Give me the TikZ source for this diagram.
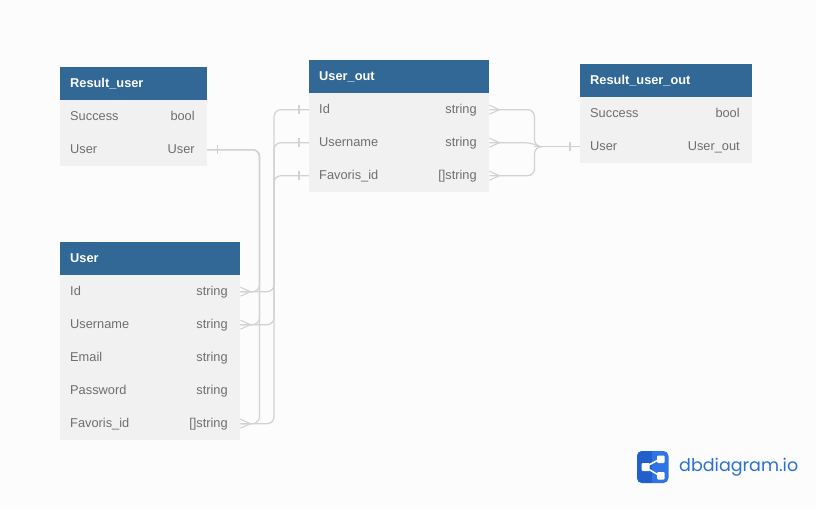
\documentclass[tikz,border=0pt]{standalone}
\usepackage{fontspec}
\setmainfont{Liberation Sans}
\newfontfamily\logofont{Poppins}
\usetikzlibrary{calc}
\definecolor{bgc}{HTML}{FCFCFC}
\definecolor{headc}{HTML}{316896}
\definecolor{rowc}{HTML}{F1F1F1}
\definecolor{linec}{HTML}{D2D2D2}
\definecolor{txtc}{HTML}{6E6E6E}
\definecolor{logoa}{HTML}{2F74E2}
\definecolor{logob}{HTML}{2160CC}
\definecolor{logot}{HTML}{2A6FD2}
\tikzset{
  head/.style={anchor=north west,fill=headc,inner sep=0pt,minimum height=33pt,text=white},
  rowbox/.style={anchor=north west,fill=rowc,inner sep=0pt,minimum height=33pt},
  lbl/.style={anchor=base west,inner sep=0pt,text=txtc,font=\fontsize{12.8}{15}\selectfont},
  typ/.style={anchor=base east,inner sep=0pt,text=txtc,font=\fontsize{12.8}{15}\selectfont},
  rel/.style={draw=linec,line width=1.2pt,rounded corners=7pt},
  relmark/.style={draw=linec,line width=1.1pt},
}
% name, x, y, width, title
\newcommand{\tblhead}[5]{%
  \node[head,minimum width=#4pt] (#1) at (#2,#3) {};
  \node[anchor=base west,inner sep=0pt,text=white,font=\fontsize{12.8}{15}\selectfont\bfseries] (#1T) at ($(#1.north west)+(10,20)$) {#5};
}
% name, x, y, width, field, type
\newcommand{\tblrow}[6]{%
  \node[rowbox,minimum width=#4pt] (#1) at (#2,#3) {};
  \node[lbl] (#1L) at ($(#1.north west)+(10,20.3)$) {#5};
  \node[typ] (#1R) at ($(#1.north east)+(-12.5,20.3)$) {#6};
}
% crow's foot opening to the left, at the east side of a node
\newcommand{\crow}[1]{%
  \draw[relmark] ($(#1.east)+(0,-4.5)$) -- ($(#1.east)+(10,0)$) -- ($(#1.east)+(0,4.5)$);
}
\newcommand{\onebar}[2]{%
  \draw[relmark] ($(#1)+(#2,-4.5)$) -- ($(#1)+(#2,4.5)$);
}
\begin{document}
\begin{tikzpicture}[x=1pt,y=-1pt]
\useasboundingbox (0,0) rectangle (816,509);
\fill[bgc] (0,0) rectangle (816,509);

% Result_user
\tblhead{ru}{60}{67}{147}{Result\_user}
\tblrow{ruS}{60}{100}{147}{Success}{bool}
\tblrow{ruU}{60}{133}{147}{User}{User}
% User_out
\tblhead{uo}{309}{60}{180}{User\_out}
\tblrow{uoI}{309}{93}{180}{Id}{string}
\tblrow{uoN}{309}{126}{180}{Username}{string}
\tblrow{uoF}{309}{159}{180}{Favoris\_id}{[]string}
% Result_user_out
\tblhead{ro}{580}{64}{172}{Result\_user\_out}
\tblrow{roS}{580}{97}{172}{Success}{bool}
\tblrow{roU}{580}{130}{172}{User}{User\_out}
% User
\tblhead{us}{60}{242}{180}{User}
\tblrow{usI}{60}{275}{180}{Id}{string}
\tblrow{usN}{60}{308}{180}{Username}{string}
\tblrow{usE}{60}{341}{180}{Email}{string}
\tblrow{usP}{60}{374}{180}{Password}{string}
\tblrow{usF}{60}{407}{180}{Favoris\_id}{[]string}

\coordinate (busA) at (259.5,0);
\coordinate (busB) at (274,0);
\coordinate (busC) at (534.5,0);
\coordinate (joint) at ($(roU.west)+(-38,0)$);

% Result_user.User to User fields
\foreach \t in {usI,usN,usF}{
  \draw[rel] (ruU.east) -- (busA |- ruU.east) -- (busA |- \t.east) -- (\t.east);
}
% User fields to User_out fields
\draw[rel] (uoI.west) -- (busB |- uoI.west) -- (busB |- usI.east) -- (usI.east);
\draw[rel] (uoN.west) -- (busB |- uoN.west) -- (busB |- usN.east) -- (usN.east);
\draw[rel] (uoF.west) -- (busB |- uoF.west) -- (busB |- usF.east) -- (usF.east);
% User_out fields to Result_user_out.User
\draw[rel] (uoI.east) -- (busC |- uoI.east) -- (busC |- joint) -- (joint);
\draw[rel] (uoF.east) -- (busC |- uoF.east) -- (busC |- joint) -- (joint);
\draw[rel] (uoN.east) -- ($(busC |- uoN.east)+(-3,0)$) -- ($(joint)+(-2,0)$);
\draw[rel] ($(joint)+(-8,0)$) -- (roU.west);

\crow{usI}\crow{usN}\crow{usF}
\crow{uoI}\crow{uoN}\crow{uoF}
\onebar{ruU.east}{10}
\onebar{uoI.west}{-10}
\onebar{uoN.west}{-10}
\onebar{uoF.west}{-10}
\onebar{roU.west}{-10}

% logo
\coordinate (lg) at (637,451);
\fill[logoa,rounded corners=5pt] (lg) rectangle ++(31.5,32);
\fill[logob,rounded corners=5pt] (lg) rectangle ++(10,32);
\fill[logob] ($(lg)+(6,0)$) rectangle ++(9,32);
\draw[white,line width=1.5pt] ($(lg)+(8,16)$) -- ($(lg)+(23,8)$) ($(lg)+(8,16)$) -- ($(lg)+(23,25)$);
\fill[white,rounded corners=1pt] ($(lg)+(4.5,12)$) rectangle ++(8,8);
\fill[white,rounded corners=1pt] ($(lg)+(20,4.5)$) rectangle ++(7.5,7.5);
\fill[white,rounded corners=1pt] ($(lg)+(20,21)$) rectangle ++(7.5,7.5);
\node[anchor=west,inner sep=0pt,text=logot,font=\logofont\fontsize{17.5}{22}\selectfont] (logotxt) at (679,467) {dbdiagram.io};
\end{tikzpicture}
\end{document}
